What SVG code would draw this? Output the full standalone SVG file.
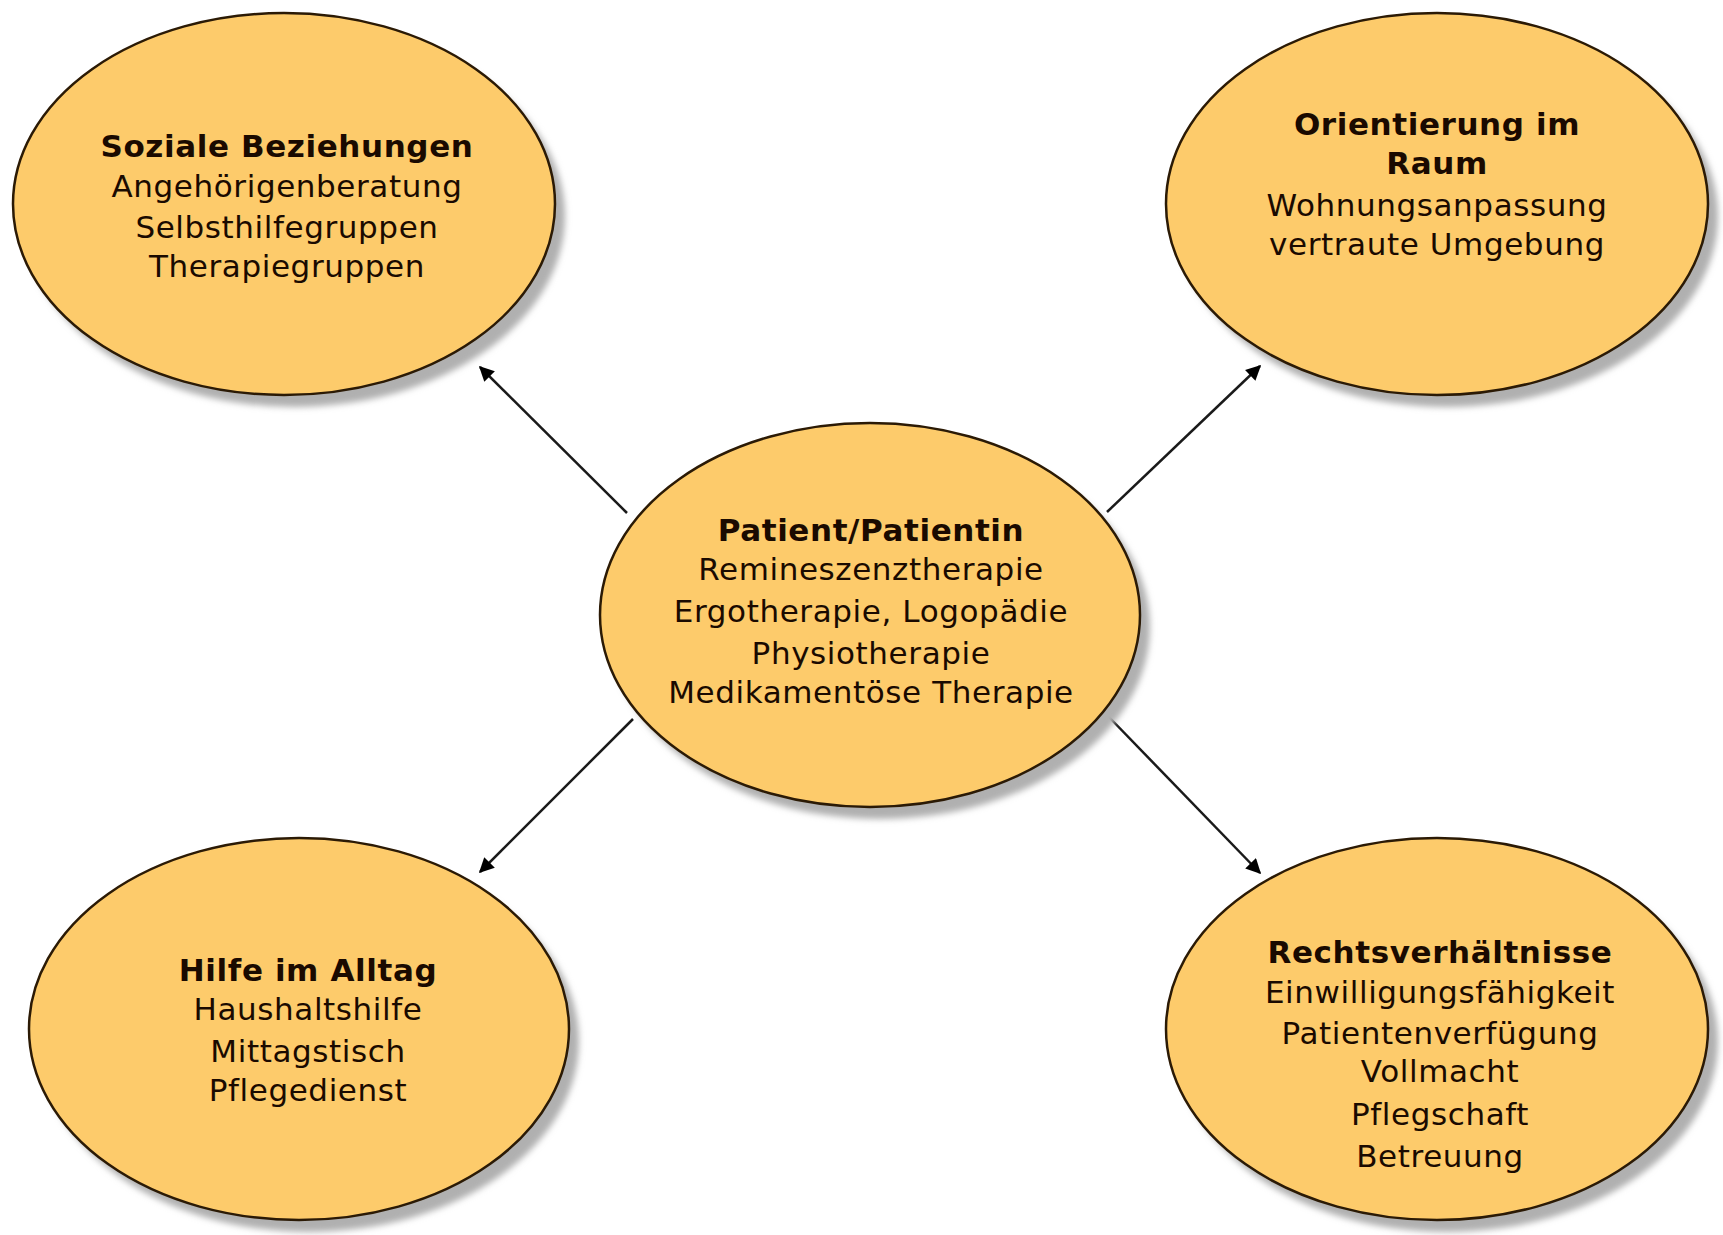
<svg xmlns="http://www.w3.org/2000/svg" width="1723" height="1235" viewBox="0 0 1723 1235">
<style>
.node{fill:#FDCB6B;stroke:#2B1A05;stroke-width:2.5}
.shadow{fill:#B0B0B0;filter:url(#blur)}
text{font-family:"DejaVu Sans","Verdana",sans-serif;font-size:31px;letter-spacing:0.6px;fill:#1A0A00;text-anchor:middle}
.t{font-weight:bold}
.conn line{stroke:#1A1A1A;stroke-width:2.5;marker-end:url(#arr)}
</style>
<defs>
<filter id="blur" x="-10%" y="-10%" width="120%" height="120%"><feGaussianBlur stdDeviation="3"/></filter>
<marker id="arr" viewBox="0 0 10 10" refX="9" refY="5" markerWidth="7" markerHeight="6" orient="auto" markerUnits="strokeWidth">
<path d="M0,0 L10,5 L0,10 z" fill="#000"/>
</marker>
</defs>
<rect width="1723" height="1235" fill="#fff"/>
<g class="conn">
<line x1="627" y1="513" x2="480" y2="367"/>
<line x1="1107" y1="512" x2="1260" y2="366"/>
<line x1="633" y1="719" x2="480" y2="872"/>
<line x1="1107" y1="715" x2="1260" y2="873"/>
</g>
<g id="soziale">
<ellipse class="shadow" cx="294" cy="216" rx="271" ry="191"/>
<ellipse class="node" cx="284" cy="204" rx="271" ry="191"/>
<text class="t" x="287" y="157">Soziale Beziehungen</text>
<text x="287" y="197">Angehörigenberatung</text>
<text x="287" y="238">Selbsthilfegruppen</text>
<text x="287" y="277">Therapiegruppen</text>
</g>
<g id="orientierung">
<ellipse class="shadow" cx="1447" cy="216" rx="271" ry="191"/>
<ellipse class="node" cx="1437" cy="204" rx="271" ry="191"/>
<text class="t" x="1437" y="135">Orientierung im</text>
<text class="t" x="1437" y="174">Raum</text>
<text x="1437" y="216">Wohnungsanpassung</text>
<text x="1437" y="255">vertraute Umgebung</text>
</g>
<g id="patient">
<ellipse class="shadow" cx="880" cy="627" rx="270" ry="192"/>
<ellipse class="node" cx="870" cy="615" rx="270" ry="192"/>
<text class="t" x="871" y="541">Patient/Patientin</text>
<text x="871" y="580">Remineszenztherapie</text>
<text x="871" y="622">Ergotherapie, Logopädie</text>
<text x="871" y="664">Physiotherapie</text>
<text x="871" y="703">Medikamentöse Therapie</text>
</g>
<g id="hilfe">
<ellipse class="shadow" cx="309" cy="1041" rx="270" ry="191"/>
<ellipse class="node" cx="299" cy="1029" rx="270" ry="191"/>
<text class="t" x="308" y="981">Hilfe im Alltag</text>
<text x="308" y="1020">Haushaltshilfe</text>
<text x="308" y="1062">Mittagstisch</text>
<text x="308" y="1101">Pflegedienst</text>
</g>
<g id="recht">
<ellipse class="shadow" cx="1447" cy="1041" rx="271" ry="191"/>
<ellipse class="node" cx="1437" cy="1029" rx="271" ry="191"/>
<text class="t" x="1440" y="963">Rechtsverhältnisse</text>
<text x="1440" y="1003">Einwilligungsfähigkeit</text>
<text x="1440" y="1044">Patientenverfügung</text>
<text x="1440" y="1082">Vollmacht</text>
<text x="1440" y="1125">Pflegschaft</text>
<text x="1440" y="1167">Betreuung</text>
</g>
</svg>
